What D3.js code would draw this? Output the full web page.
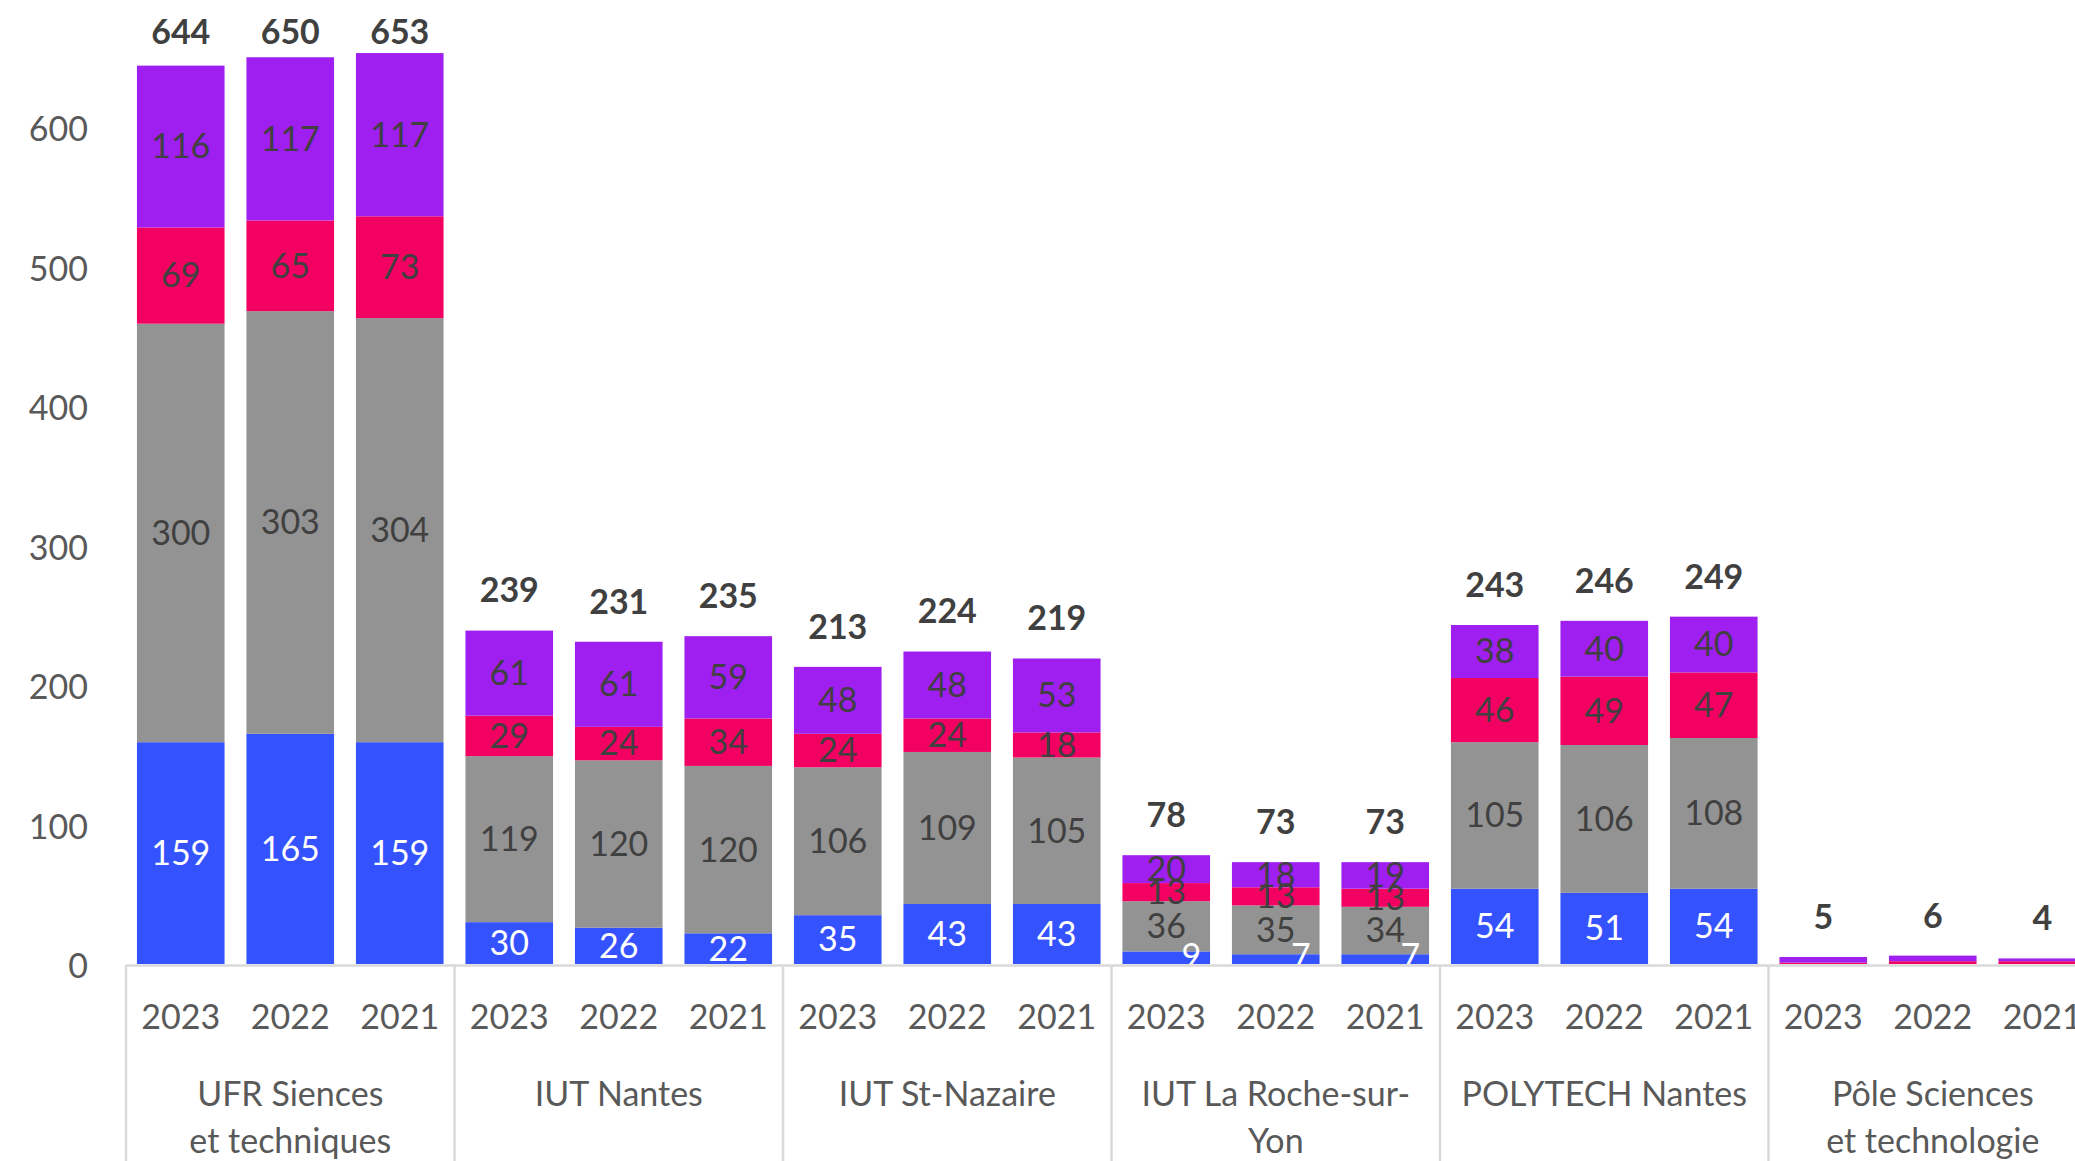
<!DOCTYPE html>
<html>
<head>
<meta charset="utf-8">
<script src="https://cdn.jsdelivr.net/npm/d3@7"></script>
<style>
  body { margin: 0; background: #fff; overflow: hidden; }
  text { font-family: "Source Sans Pro", Lato, "Noto Sans", sans-serif; }
</style>
</head>
<body>
<div id="root"></div>
<script>
// categories
var groups = ["UFR Siences\net techniques", "IUT Nantes", "IUT St-Nazaire",
              "IUT La Roche-sur-\nYon", "POLYTECH Nantes", "Pôle Sciences\net technologie"];
var years = ["2023", "2022", "2021"];

// series values, one per bar (group x year), bottom to top
var bleu   = [159, 165, 159,  30,  26,  22,  35,  43,  43,  9,  7,  7,  54,  51,  54, 0, 0, 0];
var gris   = [300, 303, 304, 119, 120, 120, 106, 109, 105, 36, 35, 34, 105, 106, 108, 0, 0, 0];
var rose   = [ 69,  65,  73,  29,  24,  34,  24,  24,  18, 13, 13, 13,  46,  49,  47, 1, 2, 2];
var violet = [116, 117, 117,  61,  61,  59,  48,  48,  53, 20, 18, 19,  38,  40,  40, 4, 4, 2];

var yTicks = [0, 100, 200, 300, 400, 500, 600];

var keys = ["bleu", "gris", "rose", "violet"];
var colors = {bleu: "#3552ff", gris: "#939393", rose: "#f20062", violet: "#9e1fef"};

// build rows from the arrays
var data = [];
groups.forEach(function (g, gi) {
    years.forEach(function (yr, yi) {
        var i = gi * years.length + yi;
        data.push({group: g, year: yr, bleu: bleu[i], gris: gris[i], rose: rose[i], violet: violet[i],
                   total: bleu[i] + gris[i] + rose[i] + violet[i]});
    });
});

var W = 2075, H = 1161;
var left = 126, groupW = 328.5;
var base = 964;
var fs = "34px";

var svg = d3.select("#root").append("svg")
    .attr("width", W)
    .attr("height", H);

var x0 = d3.scaleBand()
    .domain(groups)
    .range([left, left + groupW * groups.length]);

var x1 = d3.scaleBand()
    .domain(years)
    .range([0, x0.bandwidth()])
    .paddingInner(0.2)
    .paddingOuter(0.1);

var y = d3.scaleLinear()
    .domain([0, 600])
    .range([base, base - 6 * 139.5]);

function bx(d) { return x0(d.group) + x1(d.year); }

// y axis labels only
var yAxis = d3.axisLeft(y).tickValues(yTicks).tickSize(0).tickPadding(0);
var gy = svg.append("g")
    .attr("transform", "translate(88,3)")
    .call(yAxis);
gy.select(".domain").remove();
gy.selectAll("text")
    .attr("fill", "#595959")
    .style("font-size", fs)
    .style("font-family", "\"Source Sans Pro\", Lato, \"Noto Sans\", sans-serif");

var stacked = d3.stack().keys(keys)(data);

var layers = svg.selectAll(".layer")
    .data(stacked)
    .enter()
    .append("g")
    .attr("class", "layer")
    .attr("fill", function (s) { return colors[s.key]; });

layers.selectAll("rect")
    .data(function (s) { return s; })
    .enter()
    .append("rect")
    .attr("x", function (d) { return bx(d.data); })
    .attr("width", x1.bandwidth())
    .attr("y", function (d) { return y(d[1]); })
    .attr("height", function (d) { return y(d[0]) - y(d[1]); });

// segment labels, drawn after all rects so none get hidden
var labelLayers = svg.selectAll(".labels")
    .data(stacked)
    .enter()
    .append("g")
    .attr("class", "labels");

labelLayers.each(function (s) {
    d3.select(this).selectAll("text")
        .data(s.filter(function (d) { return d[1] - d[0] >= 5; }))
        .enter()
        .append("text")
        .attr("text-anchor", "middle")
        .attr("dy", "0.35em")
        .attr("fill", s.key === "bleu" ? "#fff" : "#404040")
        .style("font-size", fs)
        .attr("x", function (d) {
            var cx = bx(d.data) + x1.bandwidth() / 2;
            // small blue values are pushed to the right, like in the original
            return (s.key === "bleu" && d[1] - d[0] < 10) ? cx + 25 : cx;
        })
        .attr("y", function (d) {
            if (s.key === "bleu" && d[1] - d[0] < 10) return base - 8;
            return (y(d[0]) + y(d[1])) / 2;
        })
        .text(function (d) { return d[1] - d[0]; });
});

// totals above the bars
svg.selectAll(".total")
    .data(data)
    .enter()
    .append("text")
    .attr("class", "total")
    .attr("text-anchor", "middle")
    .attr("dy", "0.35em")
    .attr("fill", "#404040")
    .style("font-size", fs)
    .style("font-weight", "bold")
    .attr("x", function (d) { return bx(d) + x1.bandwidth() / 2; })
    .attr("y", function (d) { return Math.max(y(d.total) - 40, 32); })
    .text(function (d) { return d.total; });

// x axis: line, group separators, years, group names
var axisG = svg.append("g");
axisG.append("line")
    .attr("x1", x0.range()[0]).attr("x2", x0.range()[1])
    .attr("y1", base + 1.5).attr("y2", base + 1.5)
    .attr("stroke", "#d9d9d9").attr("stroke-width", 2.5);

var seps = groups.map(function (g) { return x0(g); }).concat([x0.range()[1]]);
axisG.selectAll(".sep")
    .data(seps)
    .enter()
    .append("line")
    .attr("x1", function (d) { return d; }).attr("x2", function (d) { return d; })
    .attr("y1", base + 1).attr("y2", H)
    .attr("stroke", "#d9d9d9").attr("stroke-width", 2.5);

axisG.selectAll(".year")
    .data(data)
    .enter()
    .append("text")
    .attr("text-anchor", "middle")
    .attr("dy", "0.35em")
    .attr("fill", "#595959")
    .style("font-size", fs)
    .attr("x", function (d) { return bx(d) + x1.bandwidth() / 2; })
    .attr("y", 1017)
    .text(function (d) { return d.year; });

var gl = axisG.selectAll(".grp")
    .data(groups)
    .enter()
    .append("text")
    .attr("text-anchor", "middle")
    .attr("fill", "#595959")
    .style("font-size", fs)
    .attr("x", function (g) { return x0(g) + x0.bandwidth() / 2; });

gl.selectAll("tspan")
    .data(function (g) { return g.split("\n"); })
    .enter()
    .append("tspan")
    .attr("x", function () { return d3.select(this.parentNode).attr("x"); })
    .attr("y", function (t, i) { return 1094 + i * 47; })
    .attr("dy", "0.35em")
    .text(function (t) { return t; });
</script>
</body>
</html>
